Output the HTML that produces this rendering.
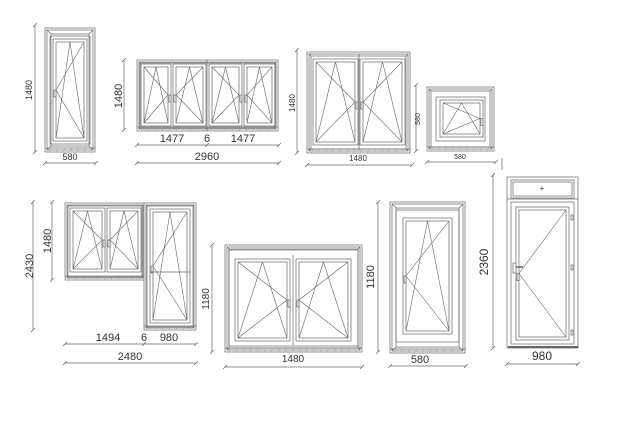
<!DOCTYPE html>
<html><head><meta charset="utf-8"><style>
html,body{margin:0;padding:0;background:#fff;}
svg{display:block}
text{font-family:"Liberation Sans",sans-serif;fill:#333}
</style></head><body>
<svg id="s" width="620" height="430" viewBox="0 0 620 430" xmlns="http://www.w3.org/2000/svg">
<g id="g" fill="none" stroke="#666" stroke-width="0.7"></g>
<g font-size="10">
<text transform="translate(32,90) rotate(-90)" text-anchor="middle" font-size="9">1480</text>
<text x="70" y="160" text-anchor="middle" font-size="9">580</text>
<text transform="translate(122,96) rotate(-90)" text-anchor="middle" font-size="11">1480</text>
<text x="172" y="142" text-anchor="middle" font-size="11">1477</text>
<text x="207" y="142" text-anchor="middle" font-size="11">6</text>
<text x="243" y="142" text-anchor="middle" font-size="11">1477</text>
<text x="207" y="160" text-anchor="middle" font-size="11">2960</text>
<text transform="translate(295,103) rotate(-90)" text-anchor="middle" font-size="8">1480</text>
<text x="358" y="161" text-anchor="middle" font-size="8">1480</text>
<text transform="translate(420,119) rotate(-90)" text-anchor="middle" font-size="7">580</text>
<text x="460" y="159" text-anchor="middle" font-size="7">580</text>
<text transform="translate(33,266) rotate(-90)" text-anchor="middle" font-size="11">2430</text>
<text transform="translate(51,241) rotate(-90)" text-anchor="middle" font-size="11">1480</text>
<text x="108" y="341" text-anchor="middle" font-size="11">1494</text>
<text x="144" y="341" text-anchor="middle" font-size="11">6</text>
<text x="169" y="341" text-anchor="middle" font-size="11">980</text>
<text x="130" y="360" text-anchor="middle" font-size="11">2480</text>
<text transform="translate(209,299) rotate(-90)" text-anchor="middle" font-size="10">1180</text>
<text x="293" y="362" text-anchor="middle" font-size="10">1480</text>
<text transform="translate(374,277) rotate(-90)" text-anchor="middle" font-size="11">1180</text>
<text x="420" y="363" text-anchor="middle" font-size="11">580</text>
<text transform="translate(488,262) rotate(-90)" text-anchor="middle" font-size="12">2360</text>
<text x="542" y="360" text-anchor="middle" font-size="12">980</text>
<text x="542" y="191" text-anchor="middle" font-size="8">+</text>
</g>
</svg>
<script>
var g=document.getElementById('g'),NS='http://www.w3.org/2000/svg';
function el(t,a){var e=document.createElementNS(NS,t);for(var k in a)e.setAttribute(k,a[k]);g.appendChild(e);return e;}
function R(x,y,w,h,f){el('rect',{x:x,y:y,width:w,height:h,fill:f||'none'});}
function L(a,b,c,d,sw,col){var e=el('line',{x1:a,y1:b,x2:c,y2:d});if(sw)e.setAttribute('stroke-width',sw);if(col)e.setAttribute('stroke',col);}
function frame(x,y,w,h,b){b=b||5;R(x,y,w,h,'#fff');R(x+2,y+2,w-4,h-4);R(x+b,y+b,w-2*b,h-2*b);
 L(x+2,y+2,x+b,y+b);L(x+w-2,y+2,x+w-b,y+b);L(x+2,y+h-2,x+b,y+h-b);L(x+w-2,y+h-2,x+w-b,y+h-b);
 L(x,y+h-4,x+w,y+h-4);for(var i=x+4;i<x+w;i+=7)L(i,y+h,i+2,y+h-4,0.4,'#999');}
function sash(x,y,w,h,hs,door){R(x,y,w,h);R(x+3,y+3,w-6,h-6);var gx=x+3,gy=y+3,gw=w-6,gh=h-6;
 var mx=hs=='r'?gx+gw:gx, ox=hs=='r'?gx:gx+gw;
 L(ox,gy,mx,gy+gh/2,0.6);L(ox,gy+gh,mx,gy+gh/2,0.6);
 if(!door){L(gx,gy+gh,gx+gw/2,gy,0.6);L(gx+gw,gy+gh,gx+gw/2,gy,0.6);}
 var hx=hs=='r'?x+w-2:x+1;R(hx,y+h/2,2,7,'#fff');}
function vdim(x,y1,y2){L(x,y1,x,y2);L(x-2,y1+2,x+2,y1-2);L(x-2,y2+2,x+2,y2-2);}
function hdim(y,x1,x2,m){L(x1,y,x2,y);[x1,x2].concat(m||[]).forEach(function(v){L(v-2,y+2,v+2,y-2);});}
frame(45,28,50,124,6);R(50,36,40,108);sash(53,39,34,102,'l');vdim(35,25,152);hdim(163,45,96);
frame(137,60,141,71,3);sash(141,64,30,62,'r');sash(173,64,33,62,'l');sash(209,64,33,62,'r');sash(244,64,31,62,'l');L(207,60,207,131);
vdim(124,60,130);hdim(145,137,279,[207]);hdim(163,137,279);
frame(307,52,103,101,4);sash(313,59,45,86,'r');sash(360,59,45,86,'l');L(359,54,359,150);vdim(297,50,153);hdim(165,307,412);
frame(427,87,67,64,4);R(436,97,49,44);sash(440,100,43,37,'r');vdim(416,85,151);hdim(162,427,496);L(502,158,502,170);
frame(65,203,80,77,3);sash(70,208,35,64,'r');sash(107,208,34,64,'l');frame(144,203,52,127,3);sash(150,209,40,114,'l');L(150,272,190,272);
vdim(33,202,330);vdim(52,202,280);hdim(344,65,196,[144]);hdim(363,65,196);
frame(225,245,137,107,4);R(229,250,129,96);sash(235,259,55,82,'r');sash(296,259,55,82,'l');L(293,255,293,345);vdim(212,245,352);hdim(367,225,362);
frame(390,202,75,151,6);R(396,210,63,132);sash(403,218,49,116,'l');vdim(378,202,352);hdim(366,390,466);
R(507,177,71,171,'#fff');R(511,180,63,18);R(513,182,59,14);L(507,199,578,199);R(511,202,63,142);sash(516,207,53,133,'l',true);
L(508,347,578,347,2);R(513,263,3,10,'#fff');L(516,267,523,267,1.5);R(571,215,2,5);R(571,265,2,5);R(571,330,2,5);
vdim(493,175,348);hdim(364,507,578);
</script>
</body></html>
